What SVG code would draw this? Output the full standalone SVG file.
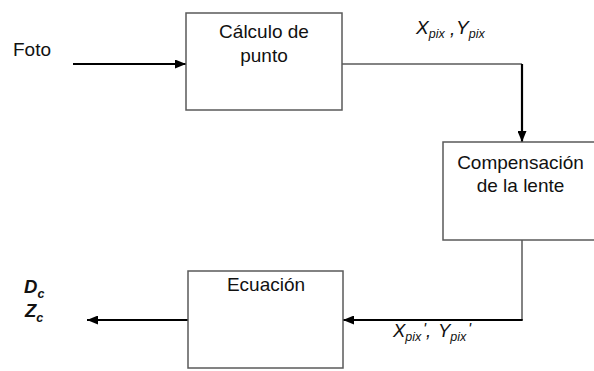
<svg xmlns="http://www.w3.org/2000/svg" width="594" height="371" viewBox="0 0 594 371">
<style>
.box{fill:#fff;stroke:#5a5a5a;stroke-width:1.5}
.t{font-family:"Liberation Sans",Arial,sans-serif;font-size:19px;fill:#111}
.m{font-family:"Liberation Sans",Arial,sans-serif;font-style:italic;fill:#111}
.b{font-family:"Liberation Sans",Arial,sans-serif;font-style:italic;font-weight:bold;fill:#111}
.thin{stroke:#5a5a5a;stroke-width:1.5;fill:none}
.thick{stroke:#000;stroke-width:2.2;fill:none}
</style>
<defs>
<marker id="ah" viewBox="0 0 11 9" refX="11" refY="4.5" markerWidth="11" markerHeight="9" markerUnits="userSpaceOnUse" orient="auto">
<path d="M0,0 L11,4.5 L0,9 z" fill="#000"/>
</marker>
</defs>
<rect width="594" height="371" fill="#fff"/>
<g id="connectors">
<line class="thick" x1="73" y1="64" x2="186" y2="64" marker-end="url(#ah)"/>
<line class="thin" x1="342" y1="64" x2="522" y2="64"/>
<line class="thick" x1="522" y1="64" x2="522" y2="142" marker-end="url(#ah)"/>
<line class="thin" x1="522" y1="240" x2="522" y2="320"/>
<line class="thick" x1="522.7" y1="320" x2="343" y2="320" marker-end="url(#ah)"/>
<line class="thick" x1="188" y1="320" x2="87" y2="320" marker-end="url(#ah)"/>
</g>
<g id="foto"><text class="t" x="13" y="56">Foto</text></g>
<g id="calculo">
<rect class="box" x="186" y="13" width="156" height="97"/>
<text class="t" x="264" y="38" text-anchor="middle">Cálculo de</text>
<text class="t" x="264" y="62" text-anchor="middle">punto</text>
</g>
<g id="compensacion">
<rect class="box" x="443" y="142" width="160" height="98"/>
<text class="t" x="520.5" y="169" text-anchor="middle">Compensación</text>
<text class="t" x="520.5" y="192" text-anchor="middle">de la lente</text>
</g>
<g id="ecuacion">
<rect class="box" x="188" y="271" width="155" height="97"/>
<text class="t" x="266" y="291" text-anchor="middle">Ecuación</text>
</g>
<g id="label-xy">
<text class="m" x="416" y="34" font-size="19">X<tspan font-size="12.5" dy="4">pix</tspan></text>
<text class="m" x="450" y="35" font-size="19">,</text>
<text class="m" x="456" y="34" font-size="19">Y<tspan font-size="12.5" dy="4">pix</tspan></text>
</g>
<g id="label-xy2">
<text class="m" x="393" y="337" font-size="18.5">X<tspan font-size="12.5" dy="4">pix</tspan></text>
<text class="m" x="423" y="335" font-size="16">'</text>
<text class="m" x="426" y="337" font-size="18.5">,</text>
<text class="m" x="438" y="337" font-size="18.5">Y<tspan font-size="12.5" dy="4">pix</tspan></text>
<text class="m" x="468" y="335" font-size="16">'</text>
</g>
<g id="output">
<text class="b" x="24" y="293" font-size="18.5">D<tspan font-size="12.5" dy="5">c</tspan></text>
<text class="b" x="25" y="317" font-size="18.5">Z<tspan font-size="12.5" dy="5">c</tspan></text>
</g>
</svg>
